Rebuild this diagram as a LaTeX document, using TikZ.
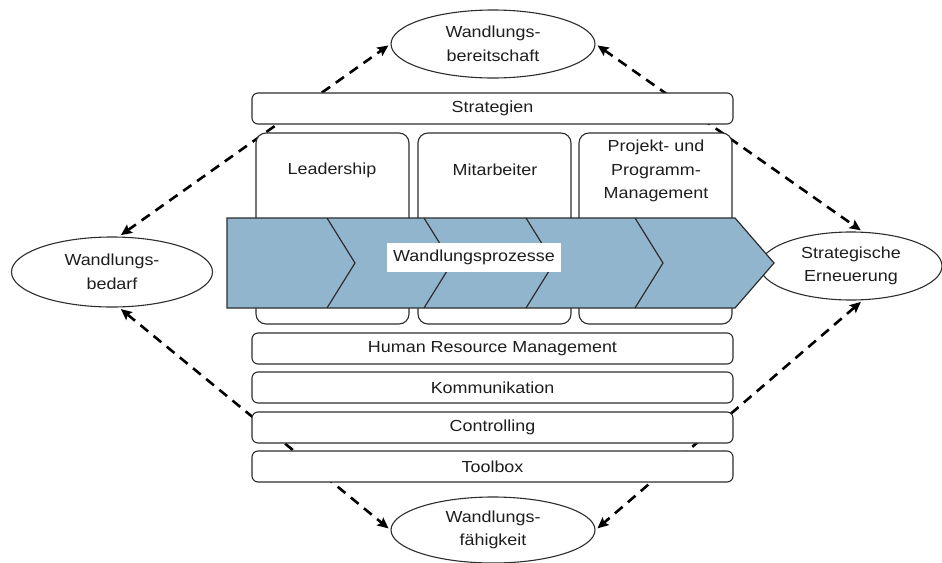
\documentclass[tikz,border=0pt]{standalone}
\usepackage{fontspec}
\setmainfont{Liberation Sans}[FakeStretch=1.12]
\usetikzlibrary{shapes.geometric,arrows.meta}
\definecolor{bandblue}{RGB}{146,181,206}
\definecolor{linegray}{RGB}{45,45,45}
\definecolor{textgray}{RGB}{30,30,30}
\tikzset{
  hbar/.style={draw=linegray, fill=white, rounded corners=6pt, minimum width=481pt, minimum height=31pt, inner sep=0pt, line width=1.1pt, text=textgray},
  colbox/.style={draw=linegray, fill=white, rounded corners=10pt, minimum width=153pt, minimum height=191pt, inner sep=0pt, line width=1.1pt},
  coltext/.style={align=center, text=textgray, inner sep=0pt},
  ell/.style={ellipse, draw=linegray, fill=white, inner sep=0pt, align=center, line width=1.1pt, text=textgray},
  darr/.style={line width=2.6pt, dash pattern=on 10pt off 7pt, {Stealth[length=11pt,width=10pt,inset=2pt]}-{Stealth[length=11pt,width=10pt,inset=2pt]}, shorten <=2.5pt, shorten >=2.5pt, draw=black},
  chev/.style={draw=linegray, line width=1.2pt, line join=miter},
}
\begin{document}
\begin{tikzpicture}[x=1pt, y=-1pt, font=\fontsize{16}{23.5}\selectfont]
\useasboundingbox (0,0) rectangle (942,562);
% ellipses
\node[ell, minimum width=204pt, minimum height=68pt] (bereit) at (493,44) {Wandlungs-\\bereitschaft};
\node[ell, minimum width=204pt, minimum height=66pt] (faehig) at (493,530) {Wandlungs-\\fähigkeit};
\node[ell, minimum width=201pt, minimum height=70pt] (bedarf) at (112,272) {Wandlungs-\\bedarf};
\node[ell, minimum width=182pt, minimum height=68pt] (erneu) at (851,266) {Strategische\\Erneuerung};
% dashed arrows (behind boxes)
\draw[darr] (bedarf.79) -- (bereit.west);
\draw[darr] (bereit.east) -- (erneu.71);
\draw[darr] (bedarf.-79) -- (faehig.west);
\draw[darr] (erneu.-71) -- (faehig.east);
% boxes
\node[hbar] (strat) at (492.5,108.5) {Strategien};
\node[colbox] (c1) at (332.5,228.5) {};
\node[colbox] (c2) at (494.5,228.5) {};
\node[colbox] (c3) at (655.5,228.5) {};
\node[coltext] (t1) at (332,170) {Leadership};
\node[coltext] (t2) at (495,170) {Mitarbeiter};
\node[coltext] (t3) at (656,171) {Projekt- und\\Programm-\\Management};
\node[hbar] (hrm) at (492.5,348.5) {Human Resource Management};
\node[hbar] (komm) at (492.5,387.5) {Kommunikation};
\node[hbar] (contr) at (492.5,427.5) {Controlling};
\node[hbar] (tool) at (492.5,466.5) {Toolbox};
% chevron band
\fill[bandblue] (227,218) -- (735,218) -- (774,263) -- (735,308) -- (227,308) -- cycle;
\foreach \xx in {327,424,526,635}{
  \draw[chev] (\xx,218) -- (\xx+28,263) -- (\xx,308);
}
\draw[chev] (227,218) -- (735,218) -- (774,263) -- (735,308) -- (227,308) -- cycle;
\node[fill=white, minimum width=174pt, minimum height=29pt, inner sep=0pt, text=textgray] (proz) at (474,257.5) {Wandlungsprozesse};
\end{tikzpicture}
\end{document}
